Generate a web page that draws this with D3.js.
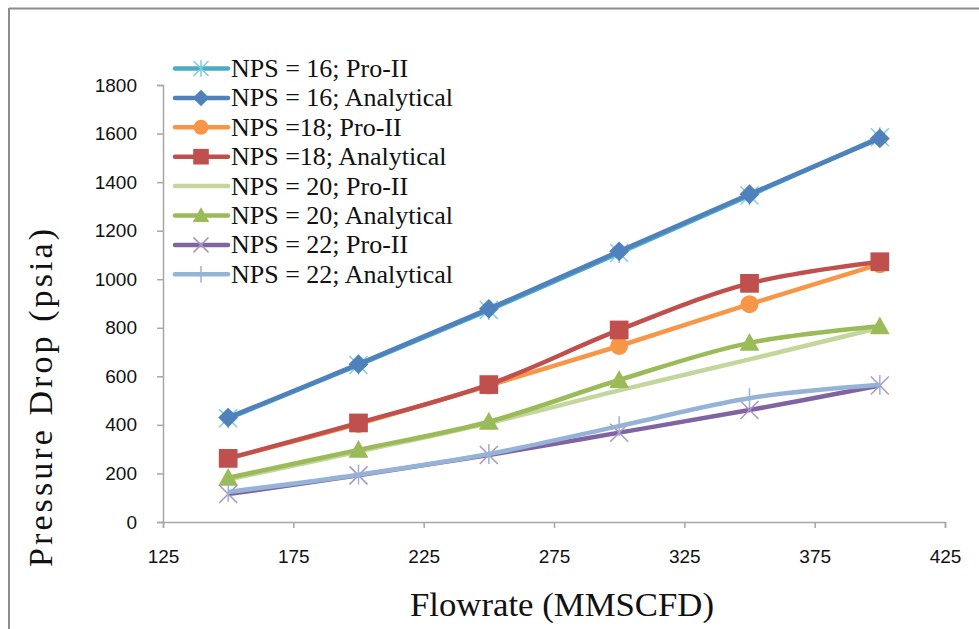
<!DOCTYPE html>
<html><head><meta charset="utf-8">
<script src="https://cdn.jsdelivr.net/npm/d3@7"></script>
<style>body{margin:0;background:#fff}svg{display:block}</style>
</head><body>
<svg id="c" width="979" height="629"></svg>
<script>
const flowrate = [150, 200, 250, 300, 350, 400];
const nps16Pro = [427, 647, 873, 1108, 1345, 1585];
const nps16Ana = [430, 650, 878, 1115, 1350, 1580];
const nps18Pro = [262, 404, 562, 725, 897, 1062];
const nps18Ana = [262, 408, 566, 791, 983, 1072];
const nps20Pro = [175, 290, 408, 542, 670, 800];
const nps20Ana = [182, 297, 413, 585, 738, 806];
const nps22Pro = [115, 192, 276, 368, 461, 562];
const nps22Ana = [124, 195, 280, 395, 510, 565];
const seriesNames = ["NPS = 16; Pro-II","NPS = 16; Analytical","NPS =18; Pro-II","NPS =18; Analytical","NPS = 20; Pro-II","NPS = 20; Analytical","NPS = 22; Pro-II","NPS = 22; Analytical"];
const xTicks = [125,175,225,275,325,375,425];
const yTicks = [0,200,400,600,800,1000,1200,1400,1600,1800];

const series = [
  {name:seriesNames[0], v:nps16Pro, color:"#4BACC6", mcolor:"#7ccde0", marker:"star"},
  {name:seriesNames[1], v:nps16Ana, color:"#4F81BD", mcolor:"#4F81BD", marker:"diamond"},
  {name:seriesNames[2], v:nps18Pro, color:"#F79646", mcolor:"#F79646", marker:"circle"},
  {name:seriesNames[3], v:nps18Ana, color:"#C0504D", mcolor:"#C0504D", marker:"square"},
  {name:seriesNames[4], v:nps20Pro, color:"#C3D69B", mcolor:"#C3D69B", marker:"none"},
  {name:seriesNames[5], v:nps20Ana, color:"#9BBB59", mcolor:"#9BBB59", marker:"triangle"},
  {name:seriesNames[6], v:nps22Pro, color:"#8064A2", mcolor:"#a896c4", marker:"x"},
  {name:seriesNames[7], v:nps22Ana, color:"#95B3D7", mcolor:"#95B3D7", marker:"plus"}
];

const svg = d3.select("#c");
const x = d3.scaleLinear().domain([125,425]).range([163,945]);
const y = d3.scaleLinear().domain([0,1800]).range([522,85]);

// outer border (top and left)
svg.append("line").attr("x1",9).attr("x2",979).attr("y1",8.5).attr("y2",8.5).attr("stroke","#8c8c8c").attr("stroke-width",2);
svg.append("line").attr("x1",9).attr("x2",9).attr("y1",8).attr("y2",629).attr("stroke","#8c8c8c").attr("stroke-width",2);

const axisColor = "#a6a6a6";
const gx = svg.append("g").attr("transform","translate(0,522)")
  .call(d3.axisBottom(x).tickValues(xTicks).tickSize(6).tickPadding(22).tickFormat(d3.format("d")));
const gy = svg.append("g").attr("transform","translate(163,0)")
  .call(d3.axisLeft(y).tickValues(yTicks).tickSize(6).tickPadding(20).tickFormat(d3.format("d")));
[gx,gy].forEach(g=>{
  g.select(".domain").attr("stroke",axisColor).attr("stroke-width",1.5);
  g.selectAll(".tick line").attr("stroke",axisColor).attr("stroke-width",1.5);
  g.selectAll(".tick text").attr("fill","#111").style("font-family","Liberation Sans, Arial, sans-serif").style("font-size","19px");
});
gx.selectAll(".tick text").attr("dy","0.68em");

// axis titles
svg.append("text").attr("transform","translate(52,398) rotate(-90)").attr("text-anchor","middle")
  .style("font-family","Liberation Serif, serif").style("font-size","34px").attr("fill","#111")
  .attr("textLength",338).attr("lengthAdjust","spacing").text("Pressure Drop (psia)");
svg.append("text").attr("x",562).attr("y",616).attr("text-anchor","middle")
  .style("font-family","Liberation Serif, serif").style("font-size","33px").attr("fill","#111")
  .attr("textLength",304).attr("lengthAdjust","spacingAndGlyphs")
  .text("Flowrate (MMSCFD)");

function drawMarker(g, type, cx, cy, color, s){
  if(type==="none") return;
  if(type==="diamond"){
    const r=s*0.55;
    g.append("path").attr("d",`M${cx},${cy-r}L${cx+r},${cy}L${cx},${cy+r}L${cx-r},${cy}Z`).attr("fill",color);
  } else if(type==="circle"){
    g.append("circle").attr("cx",cx).attr("cy",cy).attr("r",s*0.5).attr("fill",color);
  } else if(type==="square"){
    const h=s*0.52;
    g.append("rect").attr("x",cx-h).attr("y",cy-h).attr("width",2*h).attr("height",2*h).attr("fill",color);
  } else if(type==="triangle"){
    const h=s*0.55;
    g.append("path").attr("d",`M${cx},${cy-h}L${cx+h},${cy+h*0.8}L${cx-h},${cy+h*0.8}Z`).attr("fill",color);
  } else if(type==="star" || type==="x" || type==="plus"){
    const r=s*0.5;
    let d="";
    if(type!=="plus") d+=`M${cx-r},${cy-r}L${cx+r},${cy+r}M${cx-r},${cy+r}L${cx+r},${cy-r}`;
    if(type==="star") d+=`M${cx},${cy-r*1.1}L${cx},${cy+r*1.1}`;
    if(type==="plus") d+=`M${cx},${cy-r*1.1}L${cx},${cy+r*1.1}`;
    g.append("path").attr("d",d).attr("stroke",color).attr("stroke-width",1.5).attr("fill","none");
  }
}

const line = d3.line().x((d,i)=>x(flowrate[i])).y(d=>y(d)).curve(d3.curveCatmullRom.alpha(0.5));
const plot = svg.append("g");
series.forEach(s=>{
  const g = plot.append("g");
  g.append("path").attr("d",line(s.v)).attr("fill","none").attr("stroke",s.color).attr("stroke-width",4.5).attr("stroke-linejoin","round");
  s.v.forEach((v,i)=>drawMarker(g, s.marker, x(flowrate[i]), y(v), s.mcolor, 18));
});

// legend
const leg = svg.append("g");
series.forEach((s,i)=>{
  const cy = 68.5 + i*29.4;
  leg.append("line").attr("x1",175).attr("x2",228).attr("y1",cy).attr("y2",cy).attr("stroke",s.color).attr("stroke-width",4.5).attr("stroke-linecap","round");
  drawMarker(leg, s.marker, 201, cy, s.mcolor, 15);
  leg.append("text").attr("x",231).attr("y",cy+8.5).style("font-family","Liberation Serif, serif").style("font-size","26px").attr("fill","#111").text(s.name);
});
</script>
</body></html>
